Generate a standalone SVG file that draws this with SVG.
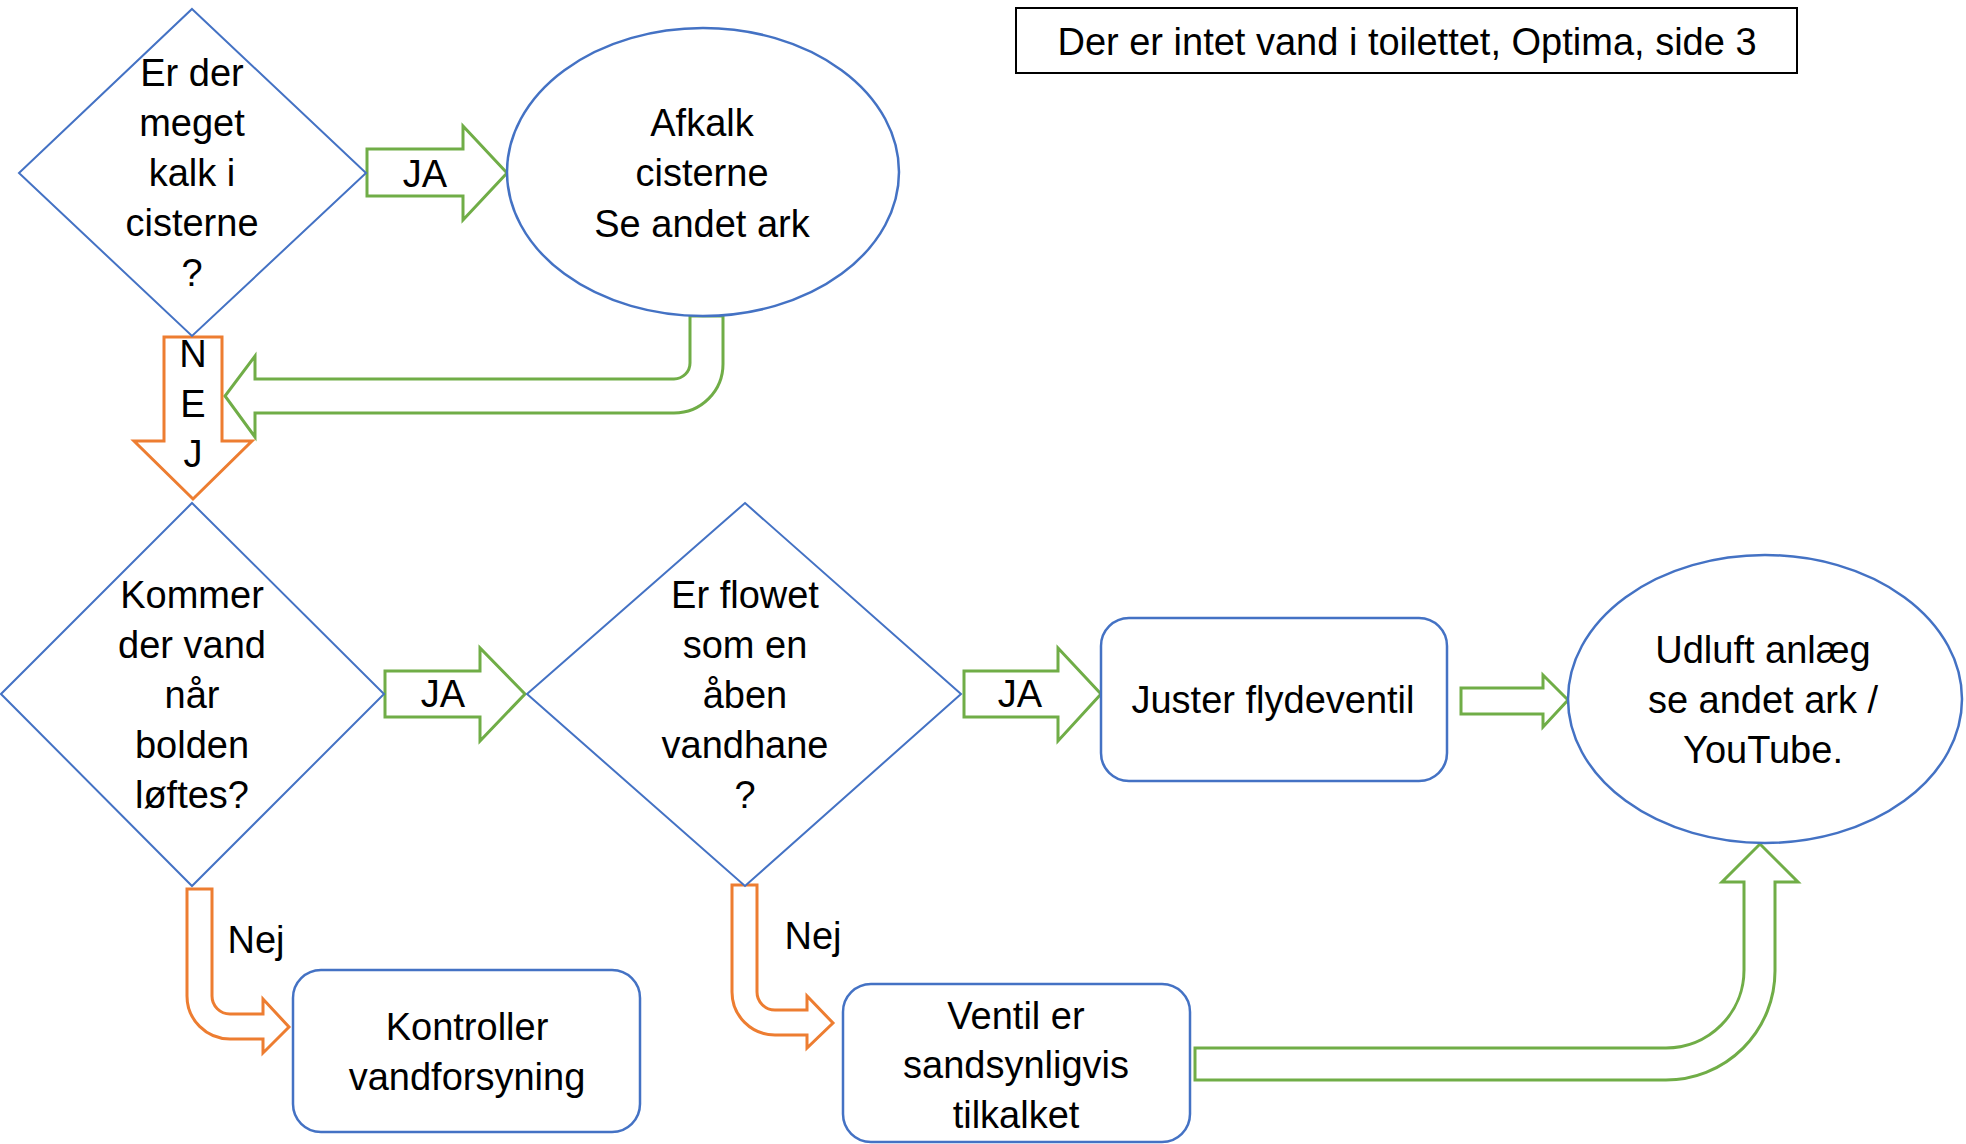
<svg xmlns="http://www.w3.org/2000/svg" width="1966" height="1144" viewBox="0 0 1966 1144">
<style>
text{font-family:"Liberation Sans",Arial,sans-serif;font-size:38px;fill:#000;text-anchor:middle}
.node{fill:#fff;stroke:#4472C4;stroke-width:2.5}
.dia{fill:#fff;stroke:#4472C4;stroke-width:2}
.g{fill:#fff;stroke:#70AD47;stroke-width:3;stroke-linejoin:miter}
.o{fill:#fff;stroke:#ED7D31;stroke-width:3;stroke-linejoin:miter}
.title{fill:#fff;stroke:#000;stroke-width:2}
</style>
<rect width="1966" height="1144" fill="#fff"/>
<g id="title">
<rect class="title" x="1016" y="8" width="781" height="65"/>
<text x="1407" y="55">Der er intet vand i toilettet, Optima, side 3</text>
</g>
<g id="connectors">
<g id="ja1"><polygon class="g" points="367,149 463,149 463,126 507,173 463,220 463,196 367,196"/><text x="425" y="187">JA</text></g>
<g id="afkalk-back"><path class="g" d="M690,316 L690,363 A16,16 0 0 1 674,379 L255,379 L255,356 L225,396 L255,437 L255,413 L674,413 A49,49 0 0 0 723,364 L723,316 Z"/></g>
<g id="nej1"><polygon class="o" points="164,337 222,337 222,441 252,441 193,499 134,441 164,441"/>
<text x="193" y="367">N</text><text x="193" y="417">E</text><text x="193" y="467">J</text></g>
<g id="ja2"><polygon class="g" points="385,671 480,671 480,648 525,694 480,741 480,717 385,717"/><text x="443" y="707">JA</text></g>
<g id="ja3"><polygon class="g" points="964,671 1058,671 1058,648 1101,694 1058,741 1058,717 964,717"/><text x="1020" y="707">JA</text></g>
<g id="juster-udluft"><polygon class="g" points="1461,688 1543,688 1543,675 1568,700 1543,727 1543,714 1461,714"/></g>
<g id="nej2"><path class="o" d="M187,889 L212,889 L212,996 A18,18 0 0 0 230,1014 L263,1014 L263,999 L289,1027 L263,1053 L263,1039 L230,1039 A43,43 0 0 1 187,996 Z"/><text x="256" y="953">Nej</text></g>
<g id="nej3"><path class="o" d="M732,885 L757,885 L757,992 A18,18 0 0 0 775,1010 L807,1010 L807,996 L833,1023 L807,1048 L807,1035 L775,1035 A43,43 0 0 1 732,992 Z"/><text x="813" y="949">Nej</text></g>
<g id="ventil-udluft"><path class="g" d="M1195,1048 L1666,1048 A78,78 0 0 0 1744,970 L1744,882 L1722,882 L1760,844 L1798,882 L1775,882 L1775,971 A109,109 0 0 1 1666,1080 L1195,1080 Z"/></g>
</g>
<g id="q1">
<polygon class="dia" points="192,9 366,173 192,336 19,173"/>
<text x="192" y="86">Er der</text><text x="192" y="136">meget</text><text x="192" y="186">kalk i</text><text x="192" y="236">cisterne</text><text x="192" y="286">?</text>
</g>
<g id="afkalk">
<ellipse class="node" cx="703" cy="172" rx="196" ry="144"/>
<text x="702" y="136">Afkalk</text><text x="702" y="186">cisterne</text><text x="702" y="237">Se andet ark</text>
</g>
<g id="q2">
<polygon class="dia" points="192,503 384,694 192,886 1,694"/>
<text x="192" y="608">Kommer</text><text x="192" y="658">der vand</text><text x="192" y="708">når</text><text x="192" y="758">bolden</text><text x="192" y="808">løftes?</text>
</g>
<g id="q3">
<polygon class="dia" points="745,503 961,694 745,886 527,694"/>
<text x="745" y="608">Er flowet</text><text x="745" y="658">som en</text><text x="745" y="708">åben</text><text x="745" y="758">vandhane</text><text x="745" y="808">?</text>
</g>
<g id="juster">
<rect class="node" x="1101" y="618" width="346" height="163" rx="28"/>
<text x="1273" y="713">Juster flydeventil</text>
</g>
<g id="udluft">
<ellipse class="node" cx="1765" cy="699" rx="197" ry="144"/>
<text x="1763" y="663">Udluft anlæg</text><text x="1763" y="713">se andet ark /</text><text x="1763" y="763">YouTube.</text>
</g>
<g id="kontroller">
<rect class="node" x="293" y="970" width="347" height="162" rx="28"/>
<text x="467" y="1040">Kontroller</text><text x="467" y="1090">vandforsyning</text>
</g>
<g id="ventil">
<rect class="node" x="843" y="984" width="347" height="158" rx="28"/>
<text x="1016" y="1029">Ventil er</text><text x="1016" y="1078">sandsynligvis</text><text x="1016" y="1128">tilkalket</text>
</g>
</svg>
